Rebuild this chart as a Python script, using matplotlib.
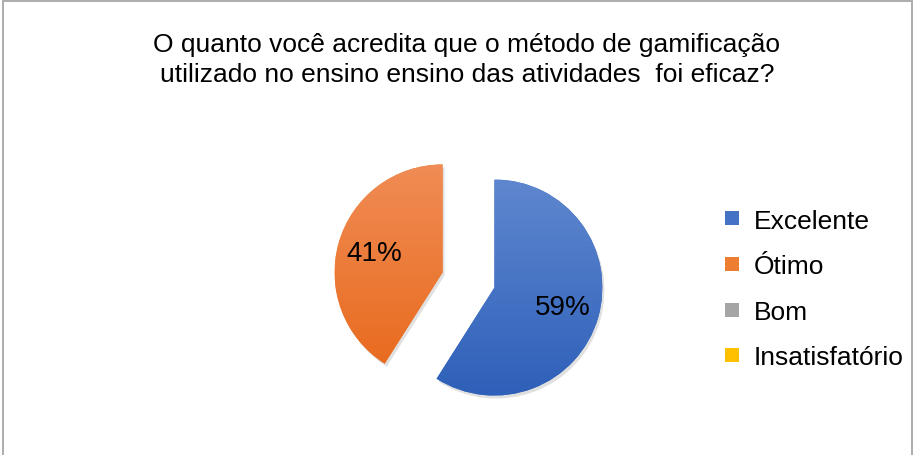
import matplotlib
matplotlib.use("Agg")

import matplotlib.pyplot as plt
import matplotlib.patches as mpatches
from matplotlib.lines import Line2D
from matplotlib.colors import LinearSegmentedColormap
import numpy as np

plt.rcParams["font.family"] = ["Liberation Sans", "DejaVu Sans"]

# ── Data ──────────────────────────────────────────────────────────────────────
TITLE = ("O quanto você acredita que o método de gamificação\n"
         "utilizado no ensino ensino das atividades  foi eficaz?")
categories = ["Excelente", "Ótimo", "Bom", "Insatisfatório"]
values = [59, 41, 0, 0]

# ── Colours ───────────────────────────────────────────────────────────────────
BASE_COLORS = ["#4472C4", "#ED7D31", "#A5A5A5", "#FFC000"]
GRADIENTS = [("#5F87CF", "#2E60B9"), ("#F08C55", "#E8691B"),
             ("#B5B5B5", "#939393"), ("#FFCC33", "#F0B400")]

W, H = 915, 456
fig = plt.figure(figsize=(W / 100, H / 100), dpi=100)
ax = fig.add_axes([0, 0, 1, 1])

CENTER = (468.5, 175)
RADIUS = 108
EXPLODE = 27  # data units (pixels here)

wedges, texts, autotexts = ax.pie(
    values, colors=BASE_COLORS, startangle=90, counterclock=False,
    center=CENTER, radius=RADIUS, explode=[EXPLODE, EXPLODE, 0, 0],
    autopct=lambda p: f"{p:.0f}%" if p > 0 else "", pctdistance=0.66,
    textprops=dict(fontsize=20, color="black"),
    wedgeprops=dict(linewidth=0),
)

# soft shadow + vertical gradient for each slice
for w, (top, bot) in zip(wedges, GRADIENTS):
    if w.theta2 - w.theta1 <= 0:
        continue
    sh = mpatches.Wedge((w.center[0] + 2, w.center[1] - 3), w.r, w.theta1, w.theta2,
                        facecolor="#000000", alpha=0.12, linewidth=0, zorder=0.5)
    ax.add_patch(sh)
    cmap = LinearSegmentedColormap.from_list("g", [bot, top])
    grad = np.linspace(0, 1, 256).reshape(-1, 1)
    cx, cy = w.center
    im = ax.imshow(grad, cmap=cmap, origin="lower", aspect="auto",
                   extent=[cx - w.r, cx + w.r, cy - w.r, cy + w.r], zorder=1.5)
    im.set_clip_path(w)
for t in autotexts:
    t.set_zorder(3)

ax.set_xlim(0, W)
ax.set_ylim(0, H)
ax.set_aspect("equal")
ax.axis("off")

fig.text(467 / W, 396 / H, TITLE, ha="center", va="center",
         fontsize=19, linespacing=1.3)

handles = [Line2D([], [], marker="s", linestyle="", markersize=10,
                  markerfacecolor=c, markeredgewidth=0) for c in BASE_COLORS]
fig.legend(handles, categories, loc="center left",
           bbox_to_anchor=(722 / W, 166 / H), frameon=False, fontsize=19,
           handlelength=0.72, handletextpad=0.47, labelspacing=0.82,
           borderpad=0, borderaxespad=0)

# chart border
fig.patches.append(mpatches.Rectangle((2.5 / W, -0.05), 909.5 / W, (H - 1.5) / H + 0.05,
                                      transform=fig.transFigure, fill=False,
                                      edgecolor="#A6A6A6", linewidth=1.3))

fig.savefig("out.png", dpi=100)
